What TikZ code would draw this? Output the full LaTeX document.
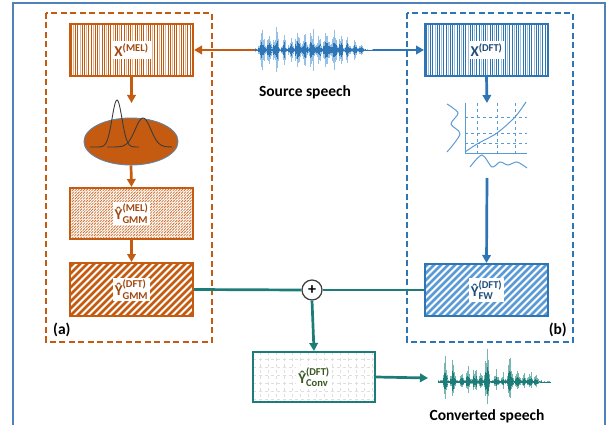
\documentclass[tikz,border=0pt]{standalone}
\usepackage{fontspec}
\setmainfont{Carlito}
\usepackage{amsmath}
\usetikzlibrary{arrows.meta,shapes.geometric}
\definecolor{orng}{RGB}{197,90,17}
\definecolor{orngtxt}{RGB}{160,72,15}
\definecolor{blu}{RGB}{46,117,182}
\definecolor{blulight}{RGB}{91,155,213}
\definecolor{blutxt}{RGB}{31,78,121}
\definecolor{framec}{RGB}{79,129,189}
\definecolor{tealc}{RGB}{28,124,120}
\definecolor{teallight}{RGB}{120,182,178}
\definecolor{grntxt}{RGB}{56,87,35}
\definecolor{wavelb}{RGB}{150,192,230}
\definecolor{gausc}{RGB}{60,60,60}
\newcommand\wlbl[1]{{\setlength\fboxsep{2pt}\colorbox{white}{#1}}}
% patterns: x0 y0 w h colour
\newcommand\patV[5]{\begin{scope}\clip (#1,#2) rectangle ++(#3,#4);
  \foreach \i in {0,...,56} {
    \pgfmathtruncatemacro\c{mod(\i,3)==1 ? 45 : 100}
    \draw[#5!\c, line width=1pt] (#1+\i*2.2+1.2,#2) -- (#1+\i*2.2+1.2,#2+#4);
  }\end{scope}}
\newcommand\patD[5]{\begin{scope}\clip (#1,#2) rectangle ++(#3,#4);
  \foreach \i in {-63,-56,...,130}
    \draw[#5, line width=2.6pt] (#1+\i,#2+#4) -- (#1+\i+#4,#2);
  \end{scope}}
\newcommand\patF[5]{\begin{scope}\clip (#1,#2) rectangle ++(#3,#4);
  \foreach \i in {-63,-60.2,...,130}
    \draw[#5, line width=0.8pt, dash pattern=on 3pt off 1pt] (#1+\i,#2+#4) -- (#1+\i+#4,#2);
  \end{scope}}
\newcommand\patG[4]{\begin{scope}\clip (#1,#2) rectangle ++(#3,#4);
  \foreach \i in {7,15,...,125}
    \draw[black!13, line width=0.5pt, dashed] (#1+\i,#2) -- (#1+\i,#2+#4);
  \foreach \j in {7,15,...,50}
    \draw[black!13, line width=0.5pt, dashed] (#1,#2+\j) -- (#1+#3,#2+\j);
  \end{scope}}
\tikzset{
  box/.style={draw, line width=2pt, minimum width=123pt, minimum height=52pt, inner sep=0pt,
    font=\fontsize{15}{17}\selectfont\bfseries},
  arr/.style={line width=2.7pt, -{Triangle[length=8pt,width=8.5pt]}},
  lbl/.style={font=\fontsize{15.5}{18}\selectfont\bfseries, inner sep=0pt},
  declare function={bump(\t,\c,\w)=max(0,1-abs(\t-\c)/\w);}
}
\begin{document}
\begin{tikzpicture}[x=1pt,y=-1pt]
\useasboundingbox (0,0) rectangle (615,425);
\clip (0,0) rectangle (615,425);
% outer frame
\draw[framec, line width=2pt] (12.5,432) -- (12.5,3.5) -- (605,3.5) -- (605,432);
% dashed containers
\draw[orng, line width=1.9pt, dash pattern=on 6pt off 3.5pt] (45.7,13) rectangle (212,341.7);
\draw[blu, line width=1.9pt, dash pattern=on 6pt off 3.5pt] (406.7,13) rectangle (573,341.7);
\node[lbl, anchor=south west] (lbla) at (53,337) {(a)};
\node[lbl, anchor=south east] (lblb) at (567,337) {(b)};

% source waveform
\node[minimum width=118pt, minimum height=62pt, inner sep=0pt] (src) at (314,50) {};
\pgfmathsetseed{11}
\foreach \t in {0,0.7,...,118} {
  \pgfmathsetmacro\e{(\t<110 ? 1.8 : 0.6)+25*bump(\t,7,4)+19*bump(\t,14,3)+29*bump(\t,21,4)+21*bump(\t,29,3)+16*bump(\t,36,3)+27*bump(\t,43,4)+23*bump(\t,50,3)+30*bump(\t,57,4)+21*bump(\t,64,3)+31*bump(\t,71,4)+25*bump(\t,79,4)+18*bump(\t,86,3)+15*bump(\t,93,3)+12*bump(\t,100,3)+6*bump(\t,106,3)}
  \pgfmathsetmacro\a{\e*(0.35+0.65*rnd)}
  \draw[wavelb, line width=0.8pt] (255+\t,50-\a) -- (255+\t,50+\a);
  \draw[blu, line width=0.8pt] (255+\t,50-0.5*\a) -- (255+\t,50+0.5*\a);
}
\node[lbl] (srclbl) at (305,92) {Source speech};

% converted waveform
\node[minimum width=124pt, minimum height=62pt, inner sep=0pt, anchor=west] (conv) at (428,378) {};
\pgfmathsetseed{5}
\foreach \t in {0,0.7,...,112} {
  \pgfmathsetmacro\e{(\t<103 ? 2.4 : 0.6)+30*bump(\t,7,3)+22*bump(\t,15,3)+10*bump(\t,24,2.5)+19*bump(\t,30,3)+20*bump(\t,37,3)+12*bump(\t,43,2.5)+37*bump(\t,49,3.5)+15*bump(\t,58,3)+10*bump(\t,65,2.5)+25*bump(\t,72,3.5)+18*bump(\t,80,3)+10*bump(\t,86,2.5)+12*bump(\t,92,3)+6*bump(\t,98,2.5)}
  \pgfmathsetmacro\a{\e*(0.35+0.65*rnd)}
  \draw[teallight, line width=0.8pt] (438+\t,382-\a) -- (438+\t,382+0.65*\a);
  \draw[tealc, line width=0.8pt] (438+\t,382-0.5*\a) -- (438+\t,382+0.4*\a);
}
\node[lbl] (convlbl) at (487,416) {Converted speech};

% left branch (a)
\patV{70}{24}{123}{52}{orng}
\node[box, draw=orng, text=orngtxt] (xmel) at (131.5,50)
  {\wlbl{$\text{X}^{\text{(MEL)}}$}};
\node[ellipse, draw=blutxt!70, fill=orng, line width=0.9pt, minimum width=94pt, minimum height=47pt, inner sep=0pt] (gmm) at (131,141.5) {};
\draw[gausc, line width=0.9pt, domain=90:139, samples=50, smooth] plot (\x,{147-47*exp(-((\x-117)/7)^2)});
\draw[gausc, line width=0.9pt, domain=107:172, samples=50, smooth] plot (\x,{147-29*exp(-((\x-143)/11)^2)});
\coordinate (gmmtop) at (131.5,103);
\patF{70}{188}{123}{51}{orng!85}
\node[box, draw=orng, text=orngtxt, minimum height=51pt] (ymel) at (131.5,213.5)
  {\wlbl{$\text{\^{Y}}^{\text{(MEL)}}_{\text{GMM}}$}};
\patD{70}{263}{123}{53}{orng}
\node[box, draw=orng, text=orngtxt, minimum height=53pt] (ydft) at (131.5,289.5)
  {\wlbl{$\text{\^{Y}}^{\text{(DFT)}}_{\text{GMM}}$}};

\draw[arr, orng] (src.west) -- (xmel.east);
\draw[arr, orng] (xmel.south) -- (gmmtop);
\draw[arr, orng] (gmm.south) -- (ymel.north);
\draw[arr, orng] (ymel.south) -- (ydft.north);

% right branch (b)
\patV{425}{24}{123}{52}{blu}
\node[box, draw=blu, text=blutxt] (xdft) at (486.5,50)
  {\wlbl{$\text{X}^{\text{(DFT)}}$}};
\coordinate (warptop) at (487,103);
\coordinate (warpbot) at (487,178);
\begin{scope}[blulight, line width=1pt]
  \draw[dashed, line width=0.8pt] (477,103) -- (477,153) (497,103) -- (497,153) (515,103) -- (515,153);
  \draw[dashed, line width=0.8pt] (465,117) -- (527,117) (465,133) -- (527,133) (465,143) -- (527,143);
  \draw (465,103) -- (465,153) -- (527,153);
  \draw plot[smooth] coordinates {(465,152) (477,144) (497,133) (515,117) (526,102)};
  \draw plot[smooth] coordinates {(447,104) (458,113) (451,124) (460,134) (447,152)};
  \draw plot[smooth] coordinates {(470,167) (482,155) (492,167) (500,162) (508,165) (517,162) (527,168)};
\end{scope}
\patD{425}{264}{123}{52}{blulight}
\node[box, draw=blu, text=blutxt] (yfw) at (486.5,290)
  {\wlbl{$\text{\^{Y}}^{\text{(DFT)}}_{\text{FW}}$}};

\draw[arr, blu] (src.east) -- (xdft.west);
\draw[arr, blu] (xdft.south) -- (warptop);
\draw[arr, blu] (warpbot) -- (yfw.north);

% combination
\node[circle, draw=gausc, fill=white, line width=1.2pt, minimum size=20pt, inner sep=0pt,
  font=\fontsize{16}{16}\selectfont\bfseries] (plus) at (312,290) {+};
\patG{253}{352}{122}{50}
\node[box, draw=tealc, text=grntxt, minimum width=122pt, minimum height=50pt] (yconv) at (314,377)
  {\wlbl{$\text{\^{Y}}^{\text{(DFT)}}_{\text{Conv}}$}};

\draw[tealc, line width=2.7pt] (ydft.east) -- (plus.west);
\draw[tealc, line width=2.7pt] (yfw.west) -- (plus.east);
\draw[arr, tealc] (plus.south) -- (yconv.north);
\draw[arr, tealc] (yconv.east) -- (conv.west);
\end{tikzpicture}
\end{document}
